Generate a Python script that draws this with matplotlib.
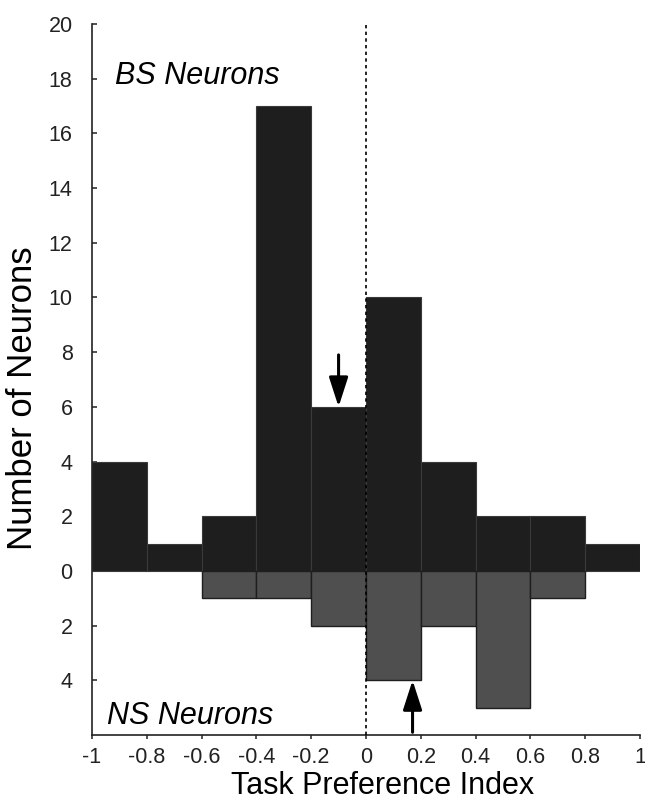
import numpy as np
import matplotlib
matplotlib.use('Agg')
import matplotlib.pyplot as plt

plt.rcParams['font.family'] = ['Liberation Sans', 'DejaVu Sans']

# histogram bins (task preference index) and counts
bin_edges = [-1.0, -0.8, -0.6, -0.4, -0.2, 0.0, 0.2, 0.4, 0.6, 0.8, 1.0]
bs_counts = [4, 1, 2, 17, 6, 10, 4, 2, 2, 1]   # broad spiking, drawn upward
ns_counts = [0, 0, 1, 1, 2, 4, 2, 5, 1, 0]     # narrow spiking, drawn downward
bs_median = -0.1
ns_median = 0.17
xticks = [-1, -0.8, -0.6, -0.4, -0.2, 0, 0.2, 0.4, 0.6, 0.8, 1]
xticklabels = ['-1', '-0.8', '-0.6', '-0.4', '-0.2', '0', '0.2', '0.4', '0.6', '0.8', '1']
yticks = [-4, -2, 0, 2, 4, 6, 8, 10, 12, 14, 16, 18, 20]

fig = plt.figure(figsize=(6.45, 8.01), dpi=100)
ax = fig.add_axes([0.1426, 0.0824, 0.8496, 0.8876])

left = np.array(bin_edges[:-1])
width = np.diff(bin_edges)
ax.bar(left, bs_counts, width=width, align='edge', color='#1e1e1e',
       edgecolor='#3a3a3a', linewidth=0.8, zorder=2)
ns = np.array(ns_counts)
keep = ns > 0
ax.bar(left[keep], -ns[keep], width=width[keep], align='edge', color='#4f4f4f',
       edgecolor='#1e1e1e', linewidth=1.0, zorder=2)

# zero line
ax.axvline(0, color='k', linestyle=(0, (2, 2)), linewidth=1.2, zorder=3)

# median arrows
arr = dict(arrowstyle='-|>,head_width=0.58,head_length=1.8', lw=2.2, color='k',
           shrinkA=0, shrinkB=0)
ax.annotate('', xy=(bs_median, bs_counts[4]), xytext=(bs_median, 7.9), arrowprops=arr, zorder=4)
ax.annotate('', xy=(ns_median, -ns_counts[5]), xytext=(ns_median, -5.9), arrowprops=arr, zorder=4)

ax.text(-0.915, 18.1, 'BS Neurons', fontsize=22, style='italic', va='center', ha='left')
ax.text(-0.945, -5.3, 'NS Neurons', fontsize=22, style='italic', va='center', ha='left')

ax.set_xlim(-1, 1)
ax.set_ylim(-6, 20)
ax.set_xticks(xticks)
ax.set_xticklabels(xticklabels)
ax.set_yticks(yticks)
ax.set_yticklabels([str(abs(v)) for v in yticks])
ax.tick_params(axis='y', direction='in', length=3.6, width=1.1, pad=14, labelsize=15.5, colors='#222222')
ax.tick_params(axis='x', direction='out', length=3, width=1.1, pad=6, labelsize=15.5, colors='#222222')
for s in ['top', 'right']:
    ax.spines[s].set_visible(False)
for s in ['left', 'bottom']:
    ax.spines[s].set_linewidth(1.2)
    ax.spines[s].set_color('#222222')

fig.text(382.5 / 645, 1 - 786 / 801, 'Task Preference Index', fontsize=22, ha='center', va='center')
fig.text(23 / 645, 1 - 398.5 / 801, 'Number of Neurons', fontsize=25, rotation=90,
         ha='center', va='center')

fig.savefig('out.png', dpi=100)
